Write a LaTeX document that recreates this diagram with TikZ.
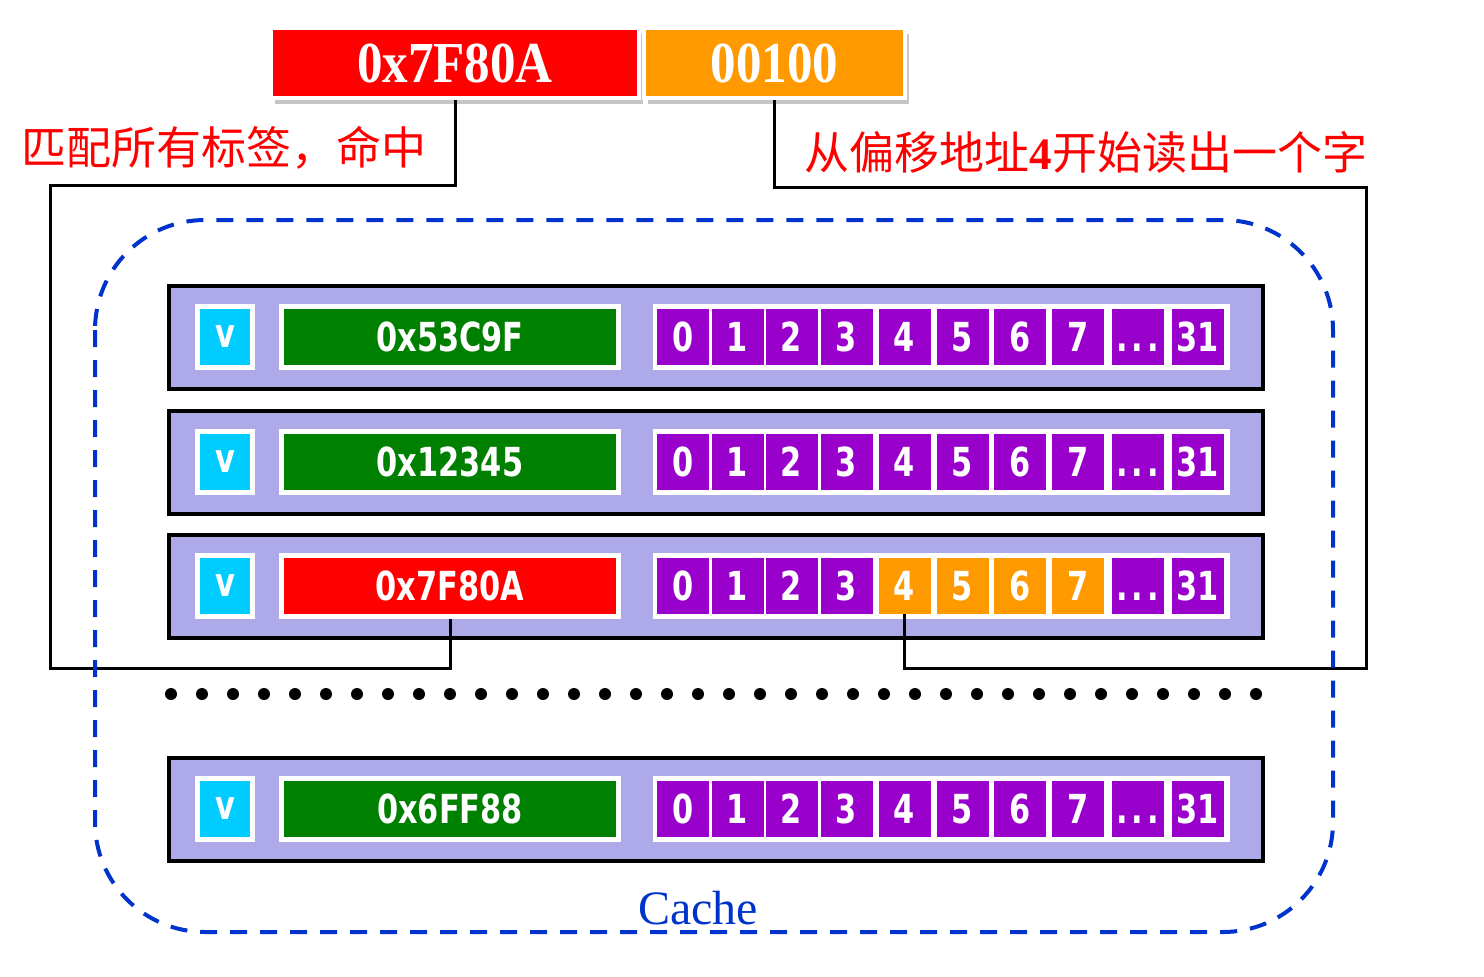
\documentclass[tikz,border=0pt]{standalone}
\usepackage{fontspec}
\usetikzlibrary{shadows}
\newfontfamily\cjkfont{Noto Sans CJK SC}
\newfontfamily\cellfont[FakeStretch=0.76]{DejaVu Sans}
\newfontfamily\addrfont[FakeStretch=0.88]{Liberation Serif}
\newfontfamily\capfont{Liberation Serif}
\definecolor{lineblue}{RGB}{0,51,204}
\definecolor{rowfill}{RGB}{174,170,234}
\definecolor{bytepurple}{RGB}{153,0,204}
\definecolor{addrorange}{RGB}{255,153,0}
\definecolor{taggreen}{RGB}{0,128,0}
\definecolor{validcyan}{RGB}{0,204,255}

\begin{document}
\begin{tikzpicture}[x=0.5pt,y=-0.5pt,
  addrbox/.style={draw=white,line width=2pt,minimum height=35pt,inner sep=0pt,text=white,
    font=\addrfont\bfseries\fontsize{29}{29}\selectfont,
    drop shadow={opacity=0.45,shadow xshift=2pt,shadow yshift=-3pt}},
  rowbox/.style={draw=black,line width=2pt,fill=rowfill,minimum width=547pt,minimum height=51.5pt,inner sep=0pt},
  fieldbox/.style={draw=white,line width=2.5pt,minimum height=30.5pt,inner sep=0pt,text=white,
    font=\cellfont\bfseries\fontsize{20}{20}\selectfont},
  bytegroup/.style={fill=white,minimum width=288.5pt,minimum height=33pt,inner sep=0pt},
  bytecell/.style={minimum width=26pt,minimum height=28pt,inner sep=0pt,text=white,
    font=\cellfont\bfseries\fontsize{20}{20}\selectfont},
  wire/.style={line width=1.5pt}]
\useasboundingbox (0,0) rectangle (1484,976);
% address: tag and offset
\node[addrbox,fill=red,minimum width=184pt] (addr) at (455,63) {0x7F80A};
\node[addrbox,fill=addrorange,minimum width=130.5pt] (offs) at (774.5,63) {00100};
% cache lines
\foreach \r/\ry/\tagtxt/\tagcol in {1/337/0x53C9F/taggreen,2/462/0x12345/taggreen,3/586/0x7F80A/red,4/809/0x6FF88/taggreen}{
  \node[rowbox] (row\r) at (716,\ry) {};
  \node[fieldbox,fill=validcyan,minimum width=27.5pt] (v\r) at (225,\ry) {v};
  \node[fieldbox,fill=\tagcol,minimum width=168.5pt] (tag\r) at (450,\ry) {\tagtxt};
  \node[bytegroup] (bytes\r) at (941.5,\ry) {};
  \foreach \cx/\lbl [count=\k from 0] in {683/0,737.5/1,791.5/2,846.5/3,904.5/4,962.5/5,1020/6,1078/7,1137.5/{\vphantom{0}.\kern2pt.\kern2pt.},1197.5/31}{
    \def\cellcol{bytepurple}
    \ifnum\r=3 \ifnum\k>3 \ifnum\k<8 \def\cellcol{addrorange}\fi\fi\fi
    \node[bytecell,fill=\cellcol] (c\r-\k) at (\cx,\ry) {\lbl};
  }
}
% hit path and read path
\coordinate (ltop) at (50,185);
\coordinate (lbot) at (50,668);
\draw[wire] (addr.south) |- (ltop) -- (lbot) -| (tag3.south);
\coordinate (rtop) at (1366,187);
\coordinate (rbot) at (1366,668);
\draw[wire] (offs.south) |- (rtop) -- (rbot) -| (c3-4.south);
% cache outline
\draw[lineblue,line width=2pt,dash pattern=on 8.5pt off 6.5pt,rounded corners=55pt] (95,220) rectangle (1333,932);
\foreach \i in {0,...,35}
  \fill (171+31*\i,694) circle (3pt);
\node[lineblue,font=\capfont\fontsize{24}{24}\selectfont] (cachelbl) at (698,908) {Cache};
\node[red,font=\cjkfont\fontsize{22.5}{22.5}\selectfont] (hitlbl) at (224,148) {匹配所有标签，命中};
\node[red,font=\cjkfont\fontsize{22.5}{22.5}\selectfont] (readlbl) at (1086,152) {从偏移地址{\capfont\bfseries 4}开始读出一个字};
\end{tikzpicture}
\end{document}
